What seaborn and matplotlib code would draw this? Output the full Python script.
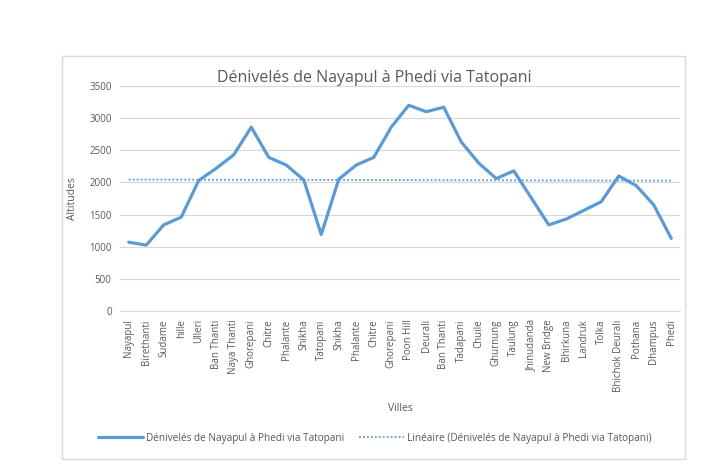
import numpy as np
import pandas as pd
import matplotlib
matplotlib.use("Agg")
import matplotlib.pyplot as plt
import seaborn as sns
from matplotlib.patches import Rectangle

villes = ['Nayapul', 'Birethanti', 'Sudame', 'hille', 'Ulleri', 'Ban Thanti',
          'Naya Thanti', 'Ghorepani', 'Chitre', 'Phalante', 'Shikha', 'Tatopani',
          'Shikha', 'Phalante', 'Chitre', 'Ghorepani', 'Poon Hill', 'Deurali',
          'Ban Thanti', 'Tadapani', 'Chuile', 'Ghurnung', 'Taulung', 'Jhinudanda',
          'New Bridge', 'Bhirkuna', 'Landruk', 'Tolka', 'Bhichok Deurali',
          'Pothana', 'Dhampus', 'Phedi']
altitudes = [1070, 1025, 1340, 1460, 2030, 2220, 2430, 2860, 2390, 2270, 2040,
             1190, 2050, 2270, 2390, 2860, 3200, 3100, 3170, 2630, 2300, 2060,
             2180, 1760, 1340, 1430, 1565, 1700, 2100, 1950, 1650, 1130]
yticks = [0, 500, 1000, 1500, 2000, 2500, 3000, 3500]

serie = 'Dénivelés de Nayapul à Phedi via Tatopani'
df = pd.DataFrame({'pos': np.arange(len(villes)), 'alt': altitudes})

# linear trend like Excel
coef = np.polyfit(df['pos'], df['alt'], 1)
df['trend'] = np.polyval(coef, df['pos'])

sns.set_style("white")
plt.rcParams['font.family'] = ['Open Sans', 'DejaVu Sans']
blue = '#5B9BD5'
grey = '#595959'

fig = plt.figure(figsize=(7.28, 4.76), dpi=100)
ax = fig.add_axes([120 / 728, 1 - 311 / 476, 560 / 728, 225 / 476])

sns.lineplot(data=df, x='pos', y='alt', ax=ax, color=blue, linewidth=2.3,
             label=serie)
sns.lineplot(data=df, x='pos', y='trend', ax=ax, color=blue, linewidth=1.3,
             linestyle=(0, (1, 1.2)), label='Linéaire (' + serie + ')')

ax.set_xlim(-0.5, len(villes) - 0.5)
ax.set_ylim(0, 3500)
ax.set_yticks(yticks)
ax.set_yticklabels([str(t) for t in yticks], fontsize=7, color=grey)
ax.set_xticks(df['pos'])
ax.set_xticklabels(villes, rotation=90, fontsize=7, color=grey)
ax.tick_params(length=0, pad=6)
ax.yaxis.grid(True, color='#d9d9d9', linewidth=0.9)
for s in ['top', 'right', 'left']:
    ax.spines[s].set_visible(False)
ax.spines['bottom'].set_color('#d9d9d9')

fig.text(374 / 728, 1 - 78 / 476, serie, fontsize=11.5, color=grey,
         ha='center', va='center')
ax.set_ylabel('Altitudes', fontsize=7.5, color=grey, labelpad=8)
ax.set_xlabel('Villes', fontsize=7.5, color=grey, labelpad=8)

h, l = ax.get_legend_handles_labels()
ax.get_legend().remove()
fig.legend(h, l, loc='center', bbox_to_anchor=(375 / 728, 1 - 438 / 476),
           ncol=2, frameon=False, fontsize=7.2, labelcolor=grey,
           handlelength=4.5, handletextpad=0.3, columnspacing=1.5)

fig.patches.append(Rectangle((62 / 728, 1 - 459 / 476), 623 / 728, 403 / 476,
                             transform=fig.transFigure, fill=False,
                             edgecolor='#d9d9d9', linewidth=1))

fig.savefig('out.png', dpi=100)
